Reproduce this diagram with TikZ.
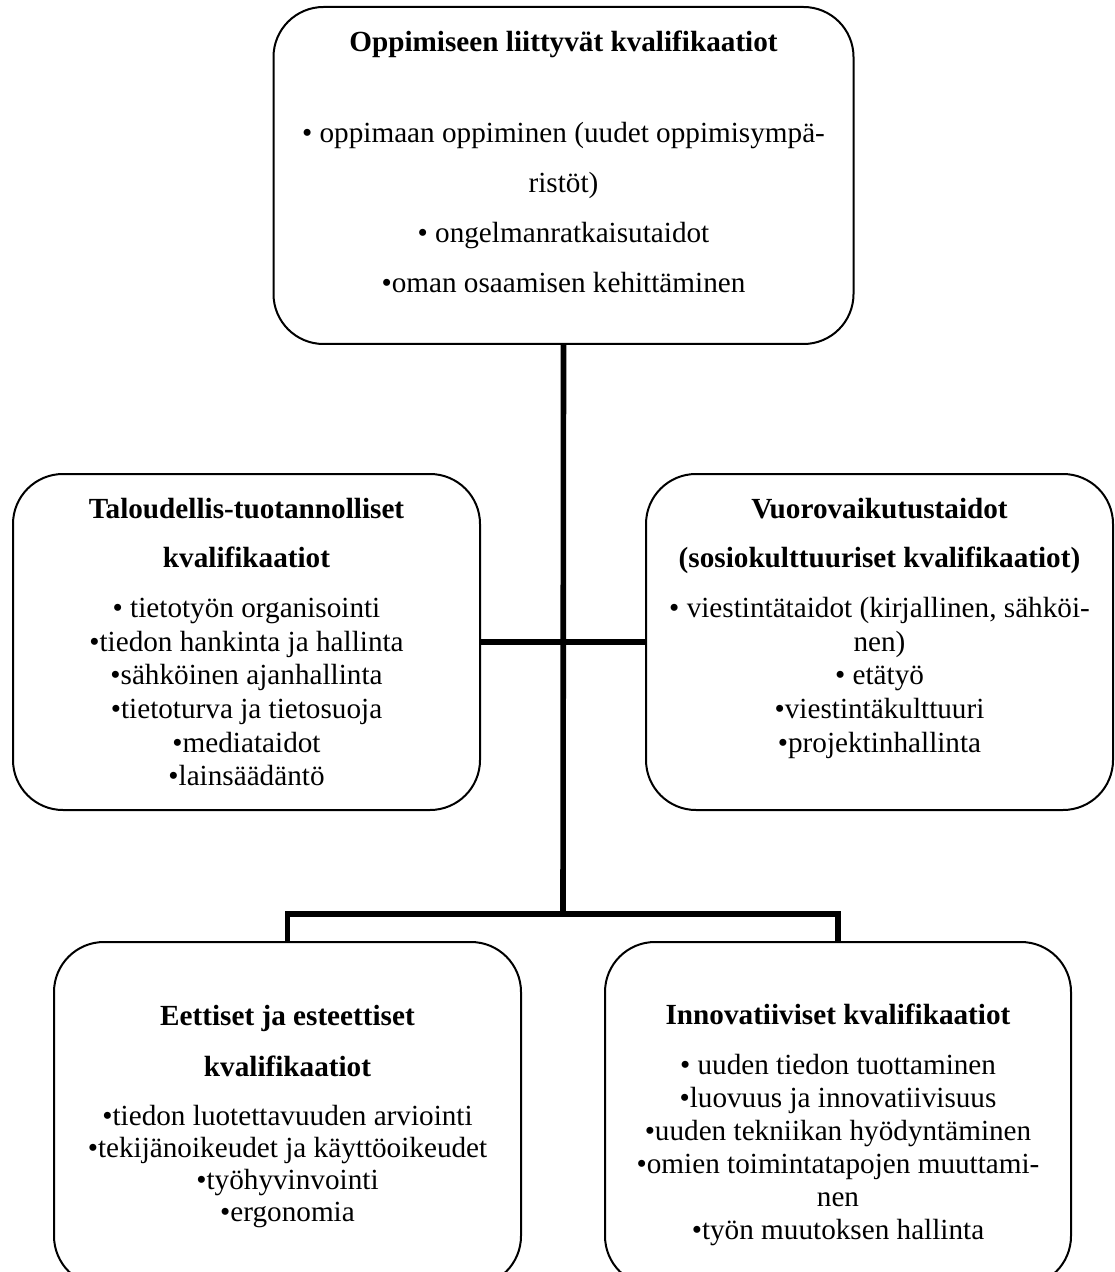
\documentclass[tikz,border=0pt]{standalone}
\usepackage{fontspec}
\setmainfont{Liberation Serif}
\usepackage{tikz}
\usetikzlibrary{positioning}
\tikzset{
kvbox/.style={draw, rectangle, rounded corners=25pt, line width=1pt, inner sep=0pt},
kvtext/.style={align=center, inner sep=0pt, anchor=north},
branch/.style={line width=2.8pt},
}
\tikzstyle{every node}=[font=\fontsize{14.6}{16.8}\selectfont]

\begin{document}
\begin{tikzpicture}[x=0.5pt,y=-0.5pt]
        \useasboundingbox (0,0) rectangle (1114,1272);
        \clip (0,0) rectangle (1114,1272);

        \node[kvbox, minimum width=290pt, minimum height=168.5pt] (oppimis) at (563.5,175.5) {};
        \node[kvbox, minimum width=233.5pt, minimum height=168pt] (talous) at (246.5,642) {};
        \node[kvbox, minimum width=233.5pt, minimum height=168pt] (vuoro) at (879.5,642) {};
        \node[kvbox, minimum width=233.5pt, minimum height=172pt] (etiikka) at (287.5,1114) {};
        \node[kvbox, minimum width=233pt, minimum height=172pt] (innov) at (838,1114) {};

        \node[kvtext, font=\fontsize{14.6}{25}\selectfont, below=12.5pt of oppimis.north] (oppimisT)
        {\textbf{Oppimiseen liittyvät kvalifikaatiot}\\[20.5pt]
        • oppimaan oppiminen (uudet oppimisympä-\\
        ristöt)\\
        • ongelmanratkaisutaidot\\
        •oman osaamisen kehittäminen};

        \node[kvtext, below=12.5pt of talous.north] (talousT)
        {\textbf{Taloudellis-tuotannolliset}\\[7.7pt]
        \textbf{kvalifikaatiot}\\[8.2pt]
        • tietotyön organisointi\\
        •tiedon hankinta ja hallinta\\
        •sähköinen ajanhallinta\\
        •tietoturva ja tietosuoja\\
        •mediataidot\\
        •lainsäädäntö};

        \node[kvtext, below=12.5pt of vuoro.north] (vuoroT)
        {\textbf{Vuorovaikutustaidot}\\[7.7pt]
        \textbf{(sosiokulttuuriset kvalifikaatiot)}\\[8.2pt]
        • viestintätaidot (kirjallinen, sähköi-\\
        nen)\\
        • etätyö\\
        •viestintäkulttuuri\\
        •projektinhallinta};

        \node[kvtext, font=\fontsize{14.6}{16}\selectfont, below=32pt of etiikka.north] (etiikkaT)
        {\textbf{Eettiset ja esteettiset}\\[9.5pt]
        \textbf{kvalifikaatiot}\\[8.5pt]
        •tiedon luotettavuuden arviointi\\
        •tekijänoikeudet ja käyttöoikeudet\\
        •työhyvinvointi\\
        •ergonomia};

        \node[kvtext, font=\fontsize{14.6}{16.5}\selectfont, below=31.5pt of innov.north] (innovT)
        {\textbf{Innovatiiviset kvalifikaatiot}\\[8.5pt]
        • uuden tiedon tuottaminen\\
        •luovuus ja innovatiivisuus\\
        •uuden tekniikan hyödyntäminen\\
        •omien toimintatapojen muuttami-\\
        nen\\
        •työn muutoksen hallinta};

        % connectors
        \coordinate (haara) at (563,914);
        \draw[branch] (oppimis.south) -- (haara);
        \draw[branch] (talous.east) -- (vuoro.west);
        \draw[branch] (etiikka.north) -- (etiikka.north |- haara)
        -- (innov.north |- haara) -- (innov.north);
    \end{tikzpicture}
\end{document}
